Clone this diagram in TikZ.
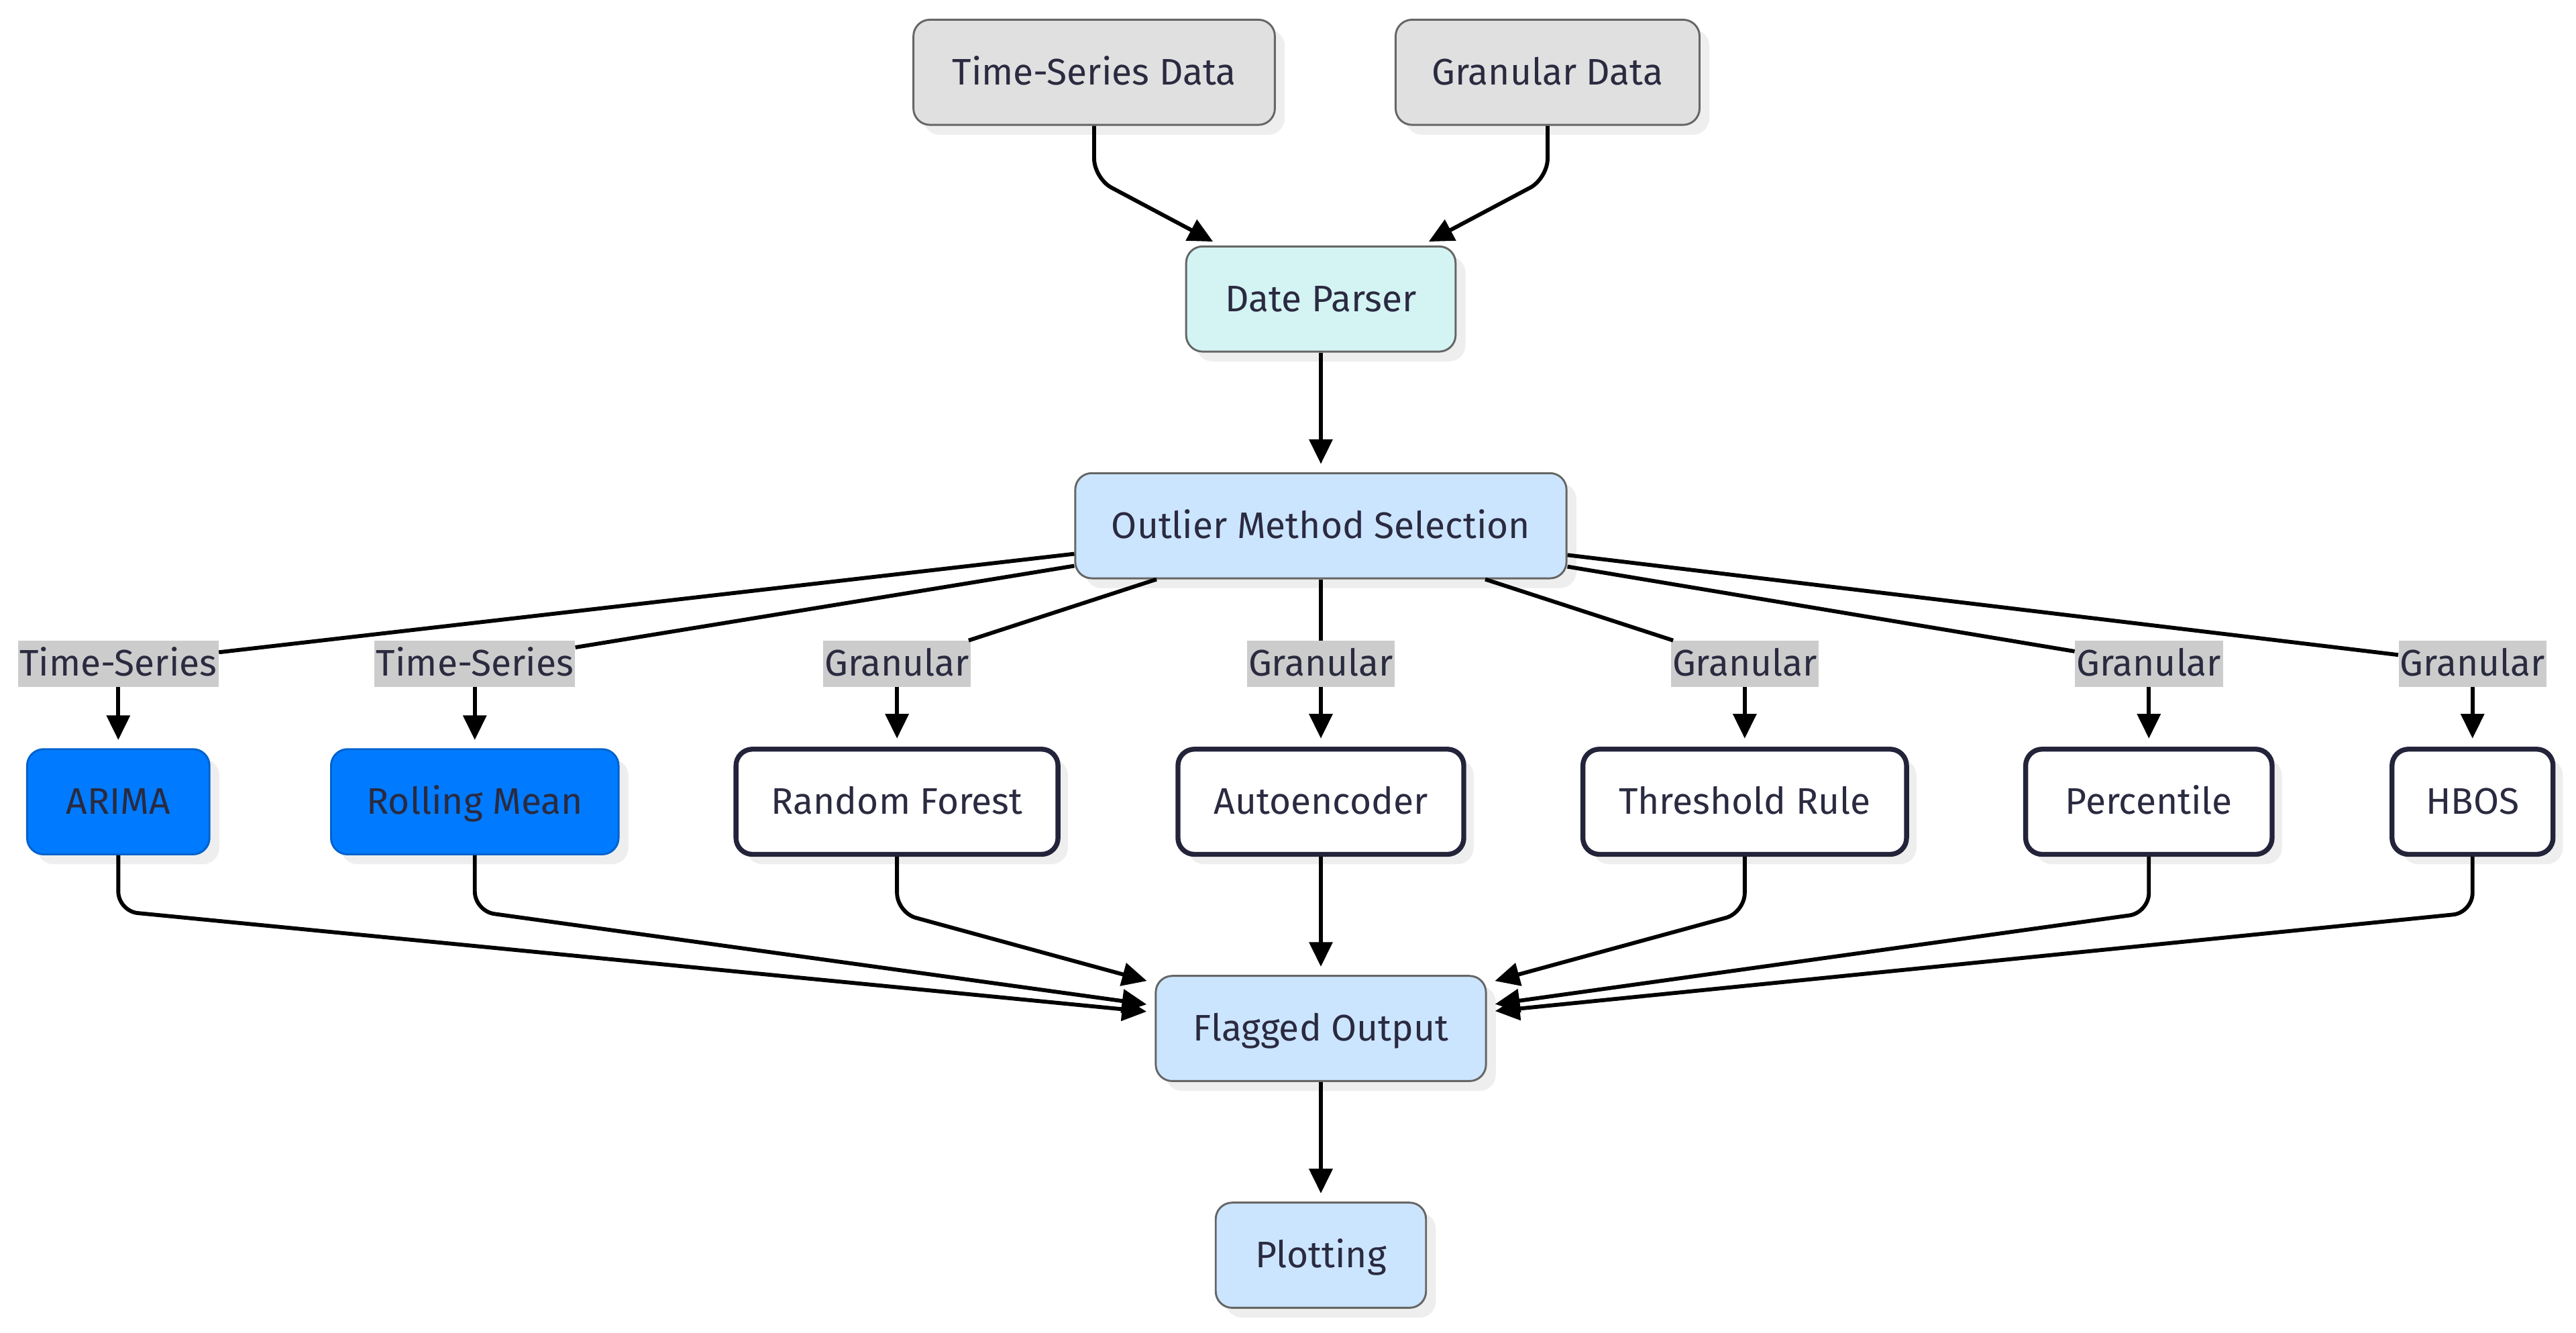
\documentclass[tikz,border=0pt]{standalone}
\usepackage{fontspec}
\setmainfont{Fira Sans}
\usetikzlibrary{arrows.meta,shadows}
\definecolor{txt}{HTML}{2A2A40}
\definecolor{boxline}{HTML}{666666}
\definecolor{inputgray}{HTML}{E0E0E0}
\definecolor{parsercyan}{HTML}{D4F4F4}
\definecolor{paleblue}{HTML}{CCE5FF}
\definecolor{tsblue}{HTML}{007BFF}
\definecolor{tsline}{HTML}{0062CC}
\definecolor{methodline}{HTML}{23233A}
\definecolor{labelgray}{HTML}{CCCCCC}
\definecolor{shadowgray}{HTML}{EEEEEE}
\begin{document}
\begin{tikzpicture}[x=1pt,y=-1pt,
  box/.style={rounded corners=10pt, draw=boxline, line width=1.2pt, minimum height=64pt, inner sep=0pt, text=txt, font=\fontsize{22.5}{26}\selectfont, text height=19.5pt, text depth=4.5pt, drop shadow={shadow xshift=6pt, shadow yshift=-6pt, fill=shadowgray, opacity=1}},
  input/.style={box, fill=inputgray},
  parse/.style={box, fill=parsercyan},
  stage/.style={box, fill=paleblue},
  tsmethod/.style={box, fill=tsblue, draw=tsline},
  method/.style={box, fill=white, draw=methodline, line width=3pt},
  kind/.style={fill=labelgray, text=txt, inner xsep=1pt, inner ysep=2pt, minimum height=28pt, text height=19.5pt, text depth=4.5pt, font=\fontsize{22.5}{26}\selectfont},
  link/.style={line width=2.4pt},
  flow/.style={link, rounded corners=12pt, shorten >=5pt, -{Triangle[length=15pt,width=14pt]}}]
\fill[white] (0,0) rectangle (1568,811);
\useasboundingbox (0,0) rectangle (1568,811);
\node[input, minimum width=220pt](ts) at (666,44) {Time-Series Data};
\node[input, minimum width=185pt](gran) at (942,44) {Granular Data};
\node[parse, minimum width=164pt](parser) at (804,182) {Date Parser};
\node[stage, minimum width=299pt](sel) at (804,320) {Outlier Method Selection};
\node[kind](k1) at (72,404) {Time-Series};
\node[kind](k2) at (289,404) {Time-Series};
\node[kind](k3) at (546,404) {Granular};
\node[kind](k4) at (804,404) {Granular};
\node[kind](k5) at (1062,404) {Granular};
\node[kind](k6) at (1308,404) {Granular};
\node[kind](k7) at (1505,404) {Granular};
\node[tsmethod, minimum width=111pt](arima) at (72,488) {ARIMA};
\node[tsmethod, minimum width=175pt](roll) at (289,488) {Rolling Mean};
\node[method, minimum width=196pt](rf) at (546,488) {Random Forest};
\node[method, minimum width=174pt](ae) at (804,488) {Autoencoder};
\node[method, minimum width=197pt](thr) at (1062,488) {Threshold Rule};
\node[method, minimum width=150pt](pct) at (1308,488) {Percentile};
\node[method, minimum width=98pt](hbos) at (1505,488) {HBOS};
\node[stage, minimum width=201pt](flag) at (804,626) {Flagged Output};
\node[stage, minimum width=128pt](plot) at (804,764) {Plotting};
\draw[flow] (ts.south) -- ++(0,32) -- (parser);
\draw[flow] (gran.south) -- ++(0,32) -- (parser);
\draw[flow] (parser) -- (sel);
\foreach \k in {k1,k2,k3,k4,k5,k6,k7}
  \draw[link] (sel) -- (\k);
\draw[flow] (k1) -- (arima);
\draw[flow] (k2) -- (roll);
\draw[flow] (k3) -- (rf);
\draw[flow] (k4) -- (ae);
\draw[flow] (k5) -- (thr);
\draw[flow] (k6) -- (pct);
\draw[flow] (k7) -- (hbos);
\foreach \m in {arima,roll,rf,thr,pct,hbos}
  \draw[flow] (\m.south) -- ++(0,34) -- (flag);
\draw[flow] (ae) -- (flag);
\draw[flow] (flag) -- (plot);
\end{tikzpicture}
\end{document}
